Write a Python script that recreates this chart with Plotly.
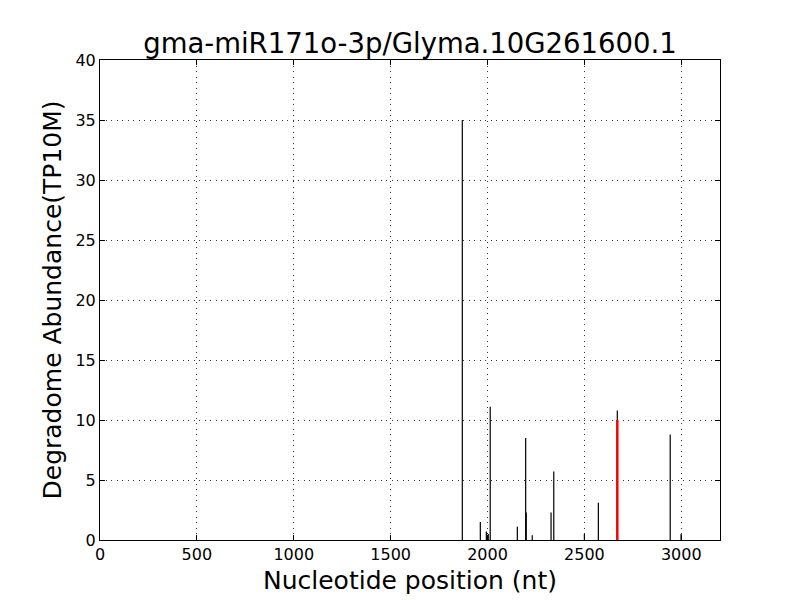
import plotly.graph_objects as go

positions = [1870, 1963, 1994, 2004, 2014, 2154, 2197, 2200, 2231, 2328, 2342, 2500, 2572, 2670, 2943, 2999]
abundance = [35.0, 1.5, 0.7, 0.5, 11.1, 1.1, 8.5, 2.3, 0.4, 2.3, 5.7, 0.5, 3.1, 10.8, 8.8, 0.5]
target_pos = [2670]
target_val = [10.0]

def seg(xs, ys):
    X, Y = [], []
    for x, y in zip(xs, ys):
        X += [x, x, None]
        Y += [0, y, None]
    return X, Y

bx, by = seg(positions, abundance)
rx, ry = seg(target_pos, target_val)

fig = go.Figure()
fig.add_trace(go.Scatter(x=bx, y=by, mode="lines", line=dict(color="black", width=1.2), hoverinfo="skip"))
fig.add_trace(go.Scatter(x=rx, y=ry, mode="lines", line=dict(color="red", width=2.5), hoverinfo="skip"))

axis_common = dict(
    showline=True, linecolor="black", linewidth=1, mirror="ticks",
    ticks="inside", ticklen=5, tickcolor="black",
    showgrid=True, gridcolor="#333333", griddash="1px,4.5px", gridwidth=1,
    zeroline=False, tickfont=dict(size=16, color="black"),
)

fig.update_layout(
    width=800, height=600,
    margin=dict(l=92, r=88, t=52, b=68),
    paper_bgcolor="white", plot_bgcolor="white",
    font=dict(family="DejaVu Sans", color="black"),
    showlegend=False,
    title=dict(text="gma-miR171o-3p/Glyma.10G261600.1", x=0.5025, xanchor="center",
               y=0.9417, yanchor="middle", font=dict(size=27.5, color="black")),
    xaxis=dict(range=[0, 3200], tickvals=[0, 500, 1000, 1500, 2000, 2500, 3000],
               title=dict(text="Nucleotide position (nt)", font=dict(size=25), standoff=8),
               **axis_common),
    yaxis=dict(range=[0, 40], tickvals=[0, 5, 10, 15, 20, 25, 30, 35, 40],
               title=dict(text="Degradome Abundance(TP10M)", font=dict(size=25), standoff=6),
               **axis_common),
)

fig.write_html("out.html")
